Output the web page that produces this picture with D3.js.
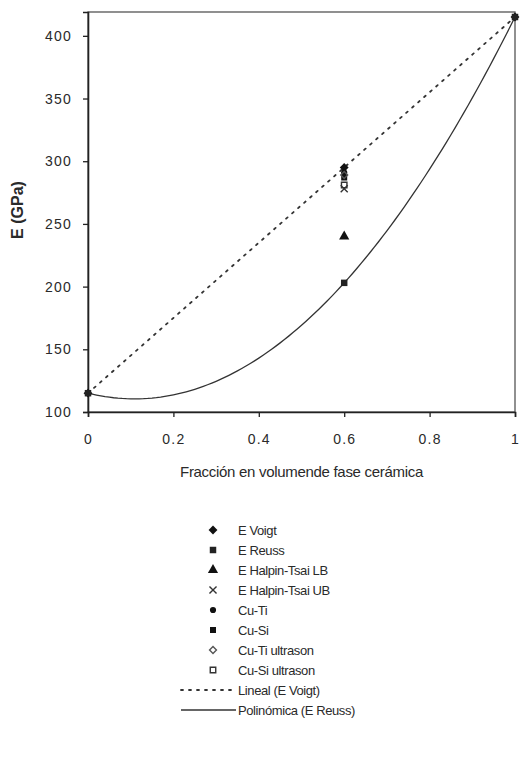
<!DOCTYPE html>
<html>
<head>
<meta charset="utf-8">
<script src="https://cdn.jsdelivr.net/npm/d3@7"></script>
<style>
  body { margin: 0; background: #fff; }
  text { font-family: "Liberation Sans", Arial, sans-serif; fill: #2a2a2a; }
</style>
</head>
<body>
<div id="chart"></div>
<script>
// data
const fraction = [0, 0.6, 1];
const eVoigt = [115, 295, 415];
const eReuss = [115, 203, 415];
const expFraction = [0.6];
const htLB = [240];
const htUB = [278];
const cuTi = [291];
const cuSi = [287];
const cuTiUs = [289];
const cuSiUs = [281];
const xTicks = [0, 0.2, 0.4, 0.6, 0.8, 1];
const yTicks = [100, 150, 200, 250, 300, 350, 400];

const width = 521, height = 761;
const mLeft = 88, mRight = 515, mTop = 12, mBottom = 412;

const svg = d3.select("#chart").append("svg")
    .attr("width", width).attr("height", height);

const x = d3.scaleLinear().domain([0, 1]).range([mLeft, mRight]);
const y = d3.scaleLinear().domain([100, 419]).range([mBottom, mTop]);

// frame
svg.append("rect")
    .attr("x", mLeft).attr("y", mTop)
    .attr("width", mRight - mLeft).attr("height", mBottom - mTop)
    .attr("fill", "none").attr("stroke", "#555").attr("stroke-width", 1.3);

const yAxis = svg.append("g").attr("transform", `translate(${mLeft},0)`)
    .call(d3.axisLeft(y).tickValues(yTicks).tickSize(5).tickPadding(11));
const xAxis = svg.append("g").attr("transform", `translate(0,${mBottom})`)
    .call(d3.axisBottom(x).tickValues(xTicks).tickSize(5).tickPadding(17).tickFormat(d => String(d)));
[yAxis, xAxis].forEach(a => {
  a.select(".domain").attr("stroke", "#222").attr("stroke-width", 1.6);
  a.selectAll(".tick line").attr("stroke", "#222").attr("stroke-width", 1.3);
  a.selectAll("text").attr("font-size", 14).attr("letter-spacing", 1.2)
      .attr("font-family", "Liberation Sans, Arial, sans-serif").attr("fill", "#333");
});

// trendlines fitted from the series
function linFit(xs, ys) {
  const mx = d3.mean(xs), my = d3.mean(ys);
  const b = d3.sum(xs, (v, i) => (v - mx) * (ys[i] - my)) / d3.sum(xs, v => (v - mx) ** 2);
  return t => my + b * (t - mx);
}
function quadFit(xs, ys) {
  const s = k => d3.sum(xs, v => v ** k);
  const t = k => d3.sum(xs, (v, i) => v ** k * ys[i]);
  const A = [[s(0), s(1), s(2)], [s(1), s(2), s(3)], [s(2), s(3), s(4)]];
  const B = [t(0), t(1), t(2)];
  const det = m => m[0][0]*(m[1][1]*m[2][2]-m[1][2]*m[2][1]) - m[0][1]*(m[1][0]*m[2][2]-m[1][2]*m[2][0]) + m[0][2]*(m[1][0]*m[2][1]-m[1][1]*m[2][0]);
  const D = det(A);
  const c = [0, 1, 2].map(j => det(A.map((row, i) => row.map((v, k) => k === j ? B[i] : v))) / D);
  return u => c[0] + c[1] * u + c[2] * u * u;
}
const lin = linFit(fraction, eVoigt);
const quad = quadFit(fraction, eReuss);
const grid = d3.range(0, 1.0001, 0.01);

const line = d3.line().x(d => x(d[0])).y(d => y(d[1]));
svg.append("path").attr("d", line(grid.map(t => [t, lin(t)])))
    .attr("fill", "none").attr("stroke", "#333").attr("stroke-width", 1.8)
    .attr("stroke-dasharray", "2,6").attr("stroke-linecap", "round");
svg.append("path").attr("d", line(grid.map(t => [t, quad(t)])))
    .attr("fill", "none").attr("stroke", "#333").attr("stroke-width", 1.3);

// markers
const markers = {
  voigt: {type: d3.symbolDiamond2, size: 50, fill: "#111"},
  reuss: {type: d3.symbolSquare, size: 42, fill: "#222"},
  lb: {type: d3.symbolTriangle, size: 45, fill: "#111"},
  ub: {type: d3.symbolX, size: 34, fill: "none", stroke: "#333"},
  cuTi: {type: d3.symbolCircle, size: 30, fill: "#111"},
  cuSi: {type: d3.symbolSquare, size: 36, fill: "#111"},
  cuTiUs: {type: d3.symbolDiamond2, size: 30, fill: "none", stroke: "#555"},
  cuSiUs: {type: d3.symbolSquare, size: 30, fill: "none", stroke: "#333"}
};
function drawMarker(g, m, px, py) {
  g.append("path").attr("d", d3.symbol().type(m.type).size(m.size)())
      .attr("transform", `translate(${px},${py})`)
      .attr("fill", m.fill).attr("stroke", m.stroke || "none").attr("stroke-width", 1.4);
}
const series = [
  {key: "voigt", xs: fraction, ys: eVoigt, label: "E Voigt"},
  {key: "reuss", xs: fraction, ys: eReuss, label: "E Reuss"},
  {key: "lb", xs: expFraction, ys: htLB, label: "E Halpin-Tsai LB"},
  {key: "ub", xs: expFraction, ys: htUB, label: "E Halpin-Tsai UB"},
  {key: "cuTi", xs: expFraction, ys: cuTi, label: "Cu-Ti"},
  {key: "cuSi", xs: expFraction, ys: cuSi, label: "Cu-Si"},
  {key: "cuTiUs", xs: expFraction, ys: cuTiUs, label: "Cu-Ti ultrason"},
  {key: "cuSiUs", xs: expFraction, ys: cuSiUs, label: "Cu-Si ultrason"}
];
const pts = svg.append("g");
series.forEach(s => s.xs.forEach((v, i) => drawMarker(pts, markers[s.key], x(v), y(s.ys[i]))));

// axis titles
svg.append("text").attr("x", (mLeft + mRight) / 2).attr("y", 477)
    .attr("text-anchor", "middle").attr("font-size", 15).attr("letter-spacing", -0.3)
    .text("Fracción en volumende fase cerámica");
svg.append("text").attr("transform", "translate(23,210) rotate(-90)")
    .attr("text-anchor", "middle").attr("font-size", 16).attr("font-weight", 600)
    .text("E (GPa)");

// legend
const leg = svg.append("g").attr("transform", "translate(0,530)");
series.forEach((s, i) => {
  drawMarker(leg, markers[s.key], 213, i * 20);
  leg.append("text").attr("x", 238).attr("y", i * 20 + 5)
      .attr("font-size", 13).attr("letter-spacing", -0.4).text(s.label);
});
const trendLeg = [
  {label: "Lineal (E Voigt)", dash: "2,6"},
  {label: "Polinómica (E Reuss)", dash: null}
];
trendLeg.forEach((t, j) => {
  const yy = (series.length + j) * 20;
  leg.append("line").attr("x1", 181).attr("x2", 236).attr("y1", yy).attr("y2", yy)
      .attr("stroke", "#333").attr("stroke-width", t.dash ? 1.8 : 1.3)
      .attr("stroke-dasharray", t.dash).attr("stroke-linecap", t.dash ? "round" : null);
  leg.append("text").attr("x", 238).attr("y", yy + 5)
      .attr("font-size", 13).attr("letter-spacing", -0.4).text(t.label);
});
</script>
</body>
</html>
